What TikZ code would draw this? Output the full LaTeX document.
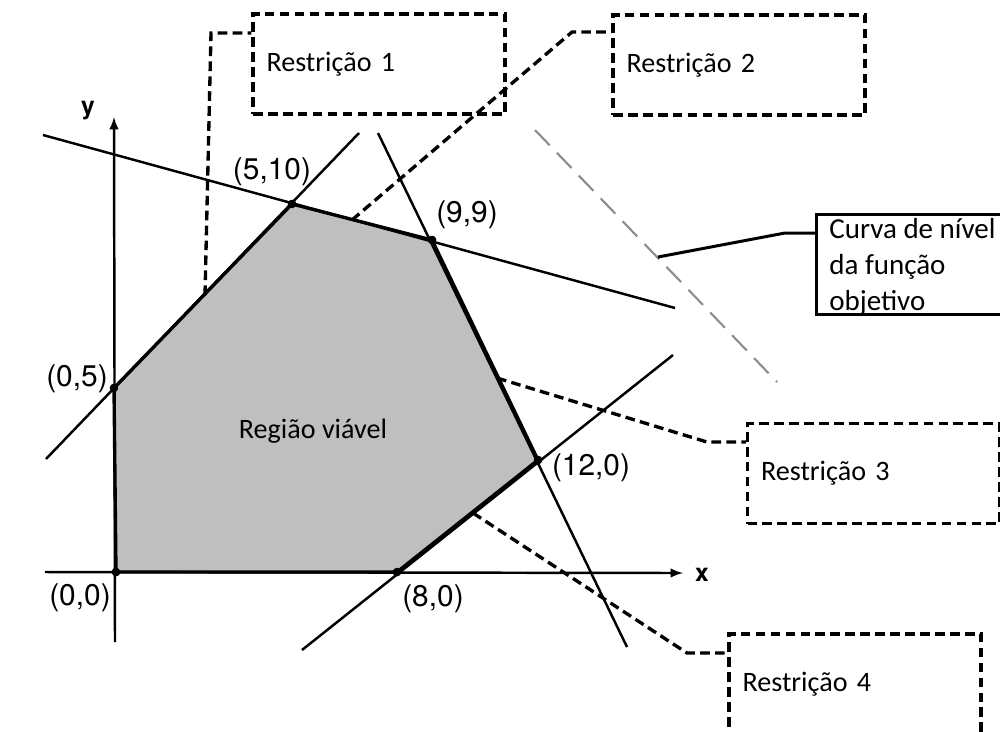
\documentclass[tikz,border=0pt]{standalone}
\usepackage{fontspec}
\setmainfont{Carlito}
\newfontfamily\helv{TeX Gyre Heros}
\usepackage{tikz}
\definecolor{regiaoc}{HTML}{BFBFBF}
\definecolor{nivelc}{HTML}{8C8C8C}

\begin{document}
\begin{tikzpicture}[x=0.02cm, y=-0.02cm,
  reta/.style={line width=1.4pt},
  borda/.style={line width=1.9pt, line join=round},
  ponto/.style={circle, fill=black, inner sep=0pt, minimum size=0.17cm},
  rotulo/.style={font=\helv\fontsize{17}{19}\selectfont},
  eixo/.style={font=\helv\bfseries\fontsize{14}{16}\selectfont},
  caixa/.style={draw, line width=1.9pt, dash pattern=on 5.5pt off 3pt,
    minimum width=5.04cm, minimum height=2cm, text width=4.5cm,
    inner xsep=0.27cm, align=left, font=\fontsize{16}{19}\selectfont},
  guia/.style={line width=1.9pt, dash pattern=on 5.5pt off 3pt}]
  \useasboundingbox (0,0) rectangle (1000,731);

  % vertices
  \node[ponto] (p00) at (116,572) {};
  \node[ponto] (p05) at (114,388) {};
  \node[ponto] (p510) at (292,204) {};
  \node[ponto] (p99) at (432,240) {};
  \node[ponto] (p120) at (538,460) {};
  \node[ponto] (p80) at (397,572) {};

  % regiao viavel
  \fill[regiaoc] (p00.center) -- (p05.center) -- (p510.center) -- (p99.center)
    -- (p120.center) -- (p80.center) -- cycle;

  % eixos
  \coordinate (xa) at (45,572);
  \coordinate (xb) at (683,573);
  \coordinate (ya) at (115,642);
  \coordinate (yb) at (114,117);
  \draw[reta, -latex] (xa) -- (xb);
  \draw[reta, -latex] (ya) -- (yb);
  \node[eixo] (xlab) at (702,575) {x};
  \node[eixo] (ylab) at (88,111) {y};

  % retas das restricoes
  \coordinate (r1a) at (46,459);  \coordinate (r1b) at (359,133);
  \coordinate (r2a) at (43,135);  \coordinate (r2b) at (675,308);
  \coordinate (r3a) at (378,133); \coordinate (r3b) at (627,647);
  \coordinate (r4a) at (302,650); \coordinate (r4b) at (673,355);
  \draw[reta] (r1a) -- (r1b);
  \draw[reta] (r2a) -- (r2b);
  \draw[reta] (r3a) -- (r3b);
  \draw[reta] (r4a) -- (r4b);
  \draw[borda] (p00.center) -- (p05.center) -- (p510.center) -- (p99.center)
    -- (p120.center) -- (p80.center) -- cycle;
  \foreach \p in {p00,p05,p510,p99,p120,p80}
    \fill (\p) circle (0.085cm);

  % curva de nivel
  \coordinate (cna) at (535,130);
  \coordinate (cnb) at (777,382);
  \draw[nivelc, line width=1.2pt, dash pattern=on 12pt off 6pt] (cna) -- (cnb);

  % rotulos
  \node[rotulo] (l510) at (272,172) {(5,10)};
  \node[rotulo] (l99) at (467,215) {(9,9)};
  \node[rotulo] (l05) at (77,379) {(0,5)};
  \node[rotulo] (l00) at (80,598) {(0,0)};
  \node[rotulo] (l80) at (433,599) {(8,0)};
  \node[rotulo] (l120) at (591,468) {(12,0)};
  \node[font=\fontsize{16}{19}\selectfont] (regiao) at (313,431) {Região viável};

  % caixas
  \node[caixa] (c1) at (379,64) {Restrição 1};
  \node[caixa] (c2) at (739,65) {Restrição 2};
  \node[caixa] (c3) at (873.5,473.5) {Restrição 3};
  \node[caixa] (c4) at (855,684) {Restrição 4};
  \draw[line width=1.7pt] (816,214) rectangle (1010,314);
  \node[anchor=north west, inner sep=0pt, align=left,
    font=\fontsize{16.5}{20.5}\selectfont] (cn) at (829,218)
    {Curva de nível\\da função\\objetivo};

  % linhas guia
  \coordinate (g1a) at (205,295); \coordinate (g1b) at (211,33);
  \coordinate (g2a) at (352,220); \coordinate (g2b) at (572,32);
  \coordinate (g3a) at (497,378); \coordinate (g3b) at (707,442);
  \coordinate (g4a) at (473,513); \coordinate (g4b) at (687,653);
  \coordinate (g5a) at (658,257); \coordinate (g5b) at (785,233);
  \draw[guia] (g1a) -- (g1b) -- (g1b -| c1.west);
  \draw[guia] (g2a) -- (g2b) -- (g2b -| c2.west);
  \draw[guia] (g3a) -- (g3b) -- (g3b -| c3.west);
  \draw[guia] (g4a) -- (g4b) -- (g4b -| c4.west);
  \draw[line width=1.7pt] (g5a) -- (g5b) -- (816,233);
\end{tikzpicture}
\end{document}
